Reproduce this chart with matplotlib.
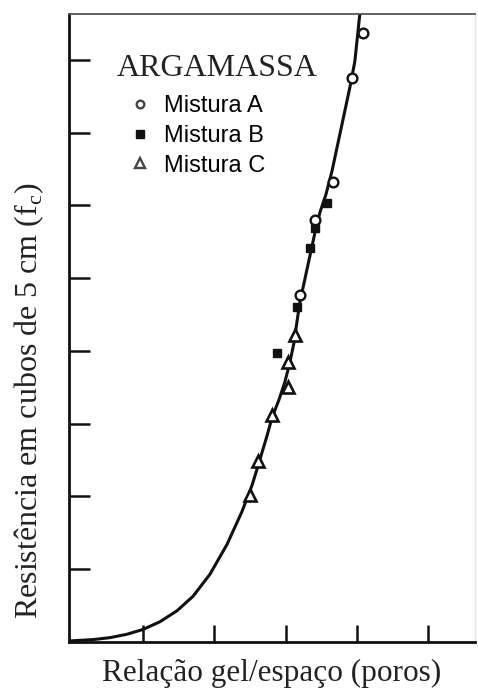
import matplotlib.pyplot as plt
from matplotlib.lines import Line2D

# fitted strength curve (x and y in tick units, ticks at 1, 2, 3 ...)
curve_x = [-0.038, 0.299, 0.537, 0.776, 1.000, 1.238, 1.477, 1.701, 1.939,
           2.178, 2.389, 2.529, 2.613, 2.739, 2.809, 2.907, 2.991, 3.062,
           3.118, 3.160, 3.202, 3.272, 3.342, 3.412, 3.483, 3.567, 3.651,
           3.777, 3.903, 3.973, 4.043]
curve_y = [0.010, 0.029, 0.056, 0.103, 0.169, 0.275, 0.426, 0.624, 0.928,
           1.337, 1.791, 2.149, 2.417, 2.829, 3.077, 3.325, 3.572, 3.847,
           4.109, 4.398, 4.673, 4.989, 5.306, 5.622, 5.904, 6.151, 6.467,
           7.045, 7.623, 7.981, 8.634]

# measured points per mix
mix_a_x = [4.09, 3.94, 3.665, 3.41, 3.20]
mix_a_y = [8.37, 7.75, 6.32, 5.80, 4.77]
mix_b_x = [3.58, 3.41, 3.34, 3.16, 2.88]
mix_b_y = [6.03, 5.69, 5.42, 4.60, 3.97]
mix_c_x = [3.13, 3.03, 3.03, 2.81, 2.61, 2.50]
mix_c_y = [4.22, 3.85, 3.50, 3.12, 2.48, 2.02]

labels = ["Mistura A", "Mistura B", "Mistura C"]
x_ticks = [1, 2, 3, 4, 5]
y_ticks = [1, 2, 3, 4, 5, 6, 7, 8]

W, H = 478, 691
fig = plt.figure(figsize=(W / 100, H / 100), dpi=100)
ax = fig.add_axes([69 / W, (H - 641.7) / H, (475 - 69) / W, (641.7 - 13.5) / H])

ax.plot(curve_x, curve_y, color="#111111", lw=2.2, zorder=2,
        solid_joinstyle="round")
ax.plot(mix_a_x, mix_a_y, "o", ms=7, mfc="white", mec="#111111", mew=1.7, zorder=3)
ax.plot(mix_b_x, mix_b_y, "s", ms=6.2, mfc="#111111", mec="#111111", zorder=3)
ax.plot(mix_c_x, mix_c_y, "^", ms=8.5, mfc="white", mec="#111111", mew=1.9, zorder=3)

ax.set_xlim(-0.04, 5.66)
ax.set_ylim(0, 8.64)
ax.set_xticks(x_ticks)
ax.set_yticks(y_ticks)
ax.set_xticklabels([])
ax.set_yticklabels([])
ax.tick_params(axis="x", direction="in", length=12, width=1.8, color="#111111")
ax.tick_params(axis="y", direction="in", length=15, width=1.8, color="#111111")

for side in ("left", "bottom"):
    ax.spines[side].set_linewidth(2.0)
    ax.spines[side].set_color("#111111")
ax.spines["top"].set_linewidth(1.3)
ax.spines["top"].set_color("#555555")
ax.spines["right"].set_linewidth(1.0)
ax.spines["right"].set_color("#e4e4e4")

ax.text(0.118, 0.9005, "ARGAMASSA", transform=ax.transAxes,
        family="Liberation Serif", fontsize=23, va="baseline", color="#222222")

handles = [
    Line2D([], [], ls="none", marker="o", ms=5.5, mfc="white", mec="#444444", mew=1.7),
    Line2D([], [], ls="none", marker="s", ms=5.5, mfc="#111111", mec="#111111"),
    Line2D([], [], ls="none", marker="^", ms=7.5, mfc="white", mec="#444444", mew=1.7),
]
ax.legend(handles, labels, loc="upper left", bbox_to_anchor=(0.145, 0.87),
          frameon=False, borderpad=0, borderaxespad=0, handlelength=1.0,
          handletextpad=0.55, labelspacing=0.33,
          prop={"family": "Liberation Sans", "size": 17})

ax.set_xlabel("Relação gel/espaço (poros)", family="Liberation Serif",
              fontsize=22.5, labelpad=9, color="#222222")
ax.set_ylabel("Resistência em cubos de 5 cm (f$_\\mathregular{c}$)",
              family="Liberation Serif", fontsize=23, color="#222222")
ax.yaxis.set_label_coords(-0.057, 0.383)

fig.savefig("out.png", dpi=100)
